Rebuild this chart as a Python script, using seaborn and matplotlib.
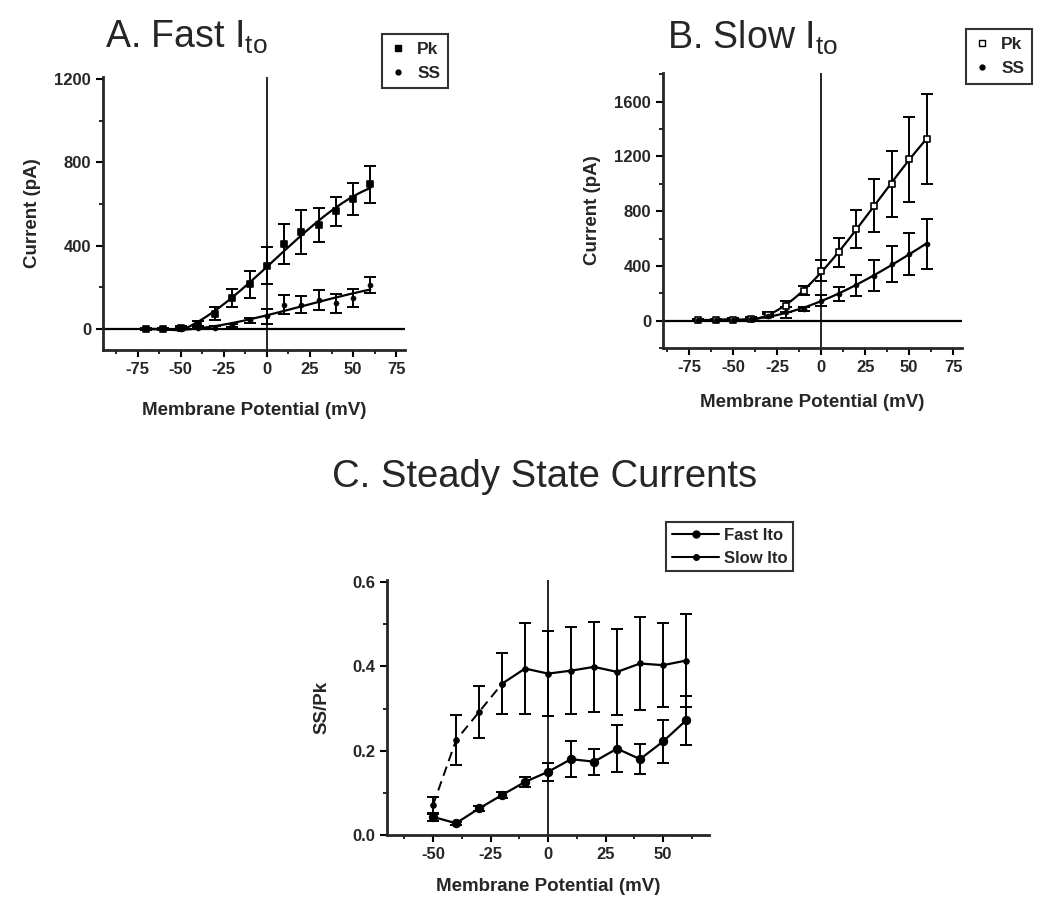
import numpy as np
import pandas as pd
import matplotlib
matplotlib.use("Agg")
import matplotlib.pyplot as plt
import seaborn as sns
from matplotlib.ticker import AutoMinorLocator
from matplotlib.lines import Line2D

sns.set_style("ticks")
plt.rcParams['font.family'] = ['Liberation Sans', 'DejaVu Sans']
plt.rcParams['mathtext.default'] = 'regular'
plt.rcParams['axes.unicode_minus'] = False

# membrane potentials (mV)
volts = [-70, -60, -50, -40, -30, -20, -10, 0, 10, 20, 30, 40, 50, 60]

# A. fast Ito (pA)
fast_pk = [2, 0, 8, 25, 75, 150, 215, 305, 410, 465, 500, 565, 625, 695]
fast_pk_err = [5, 5, 8, 12, 30, 45, 65, 90, 95, 105, 80, 70, 75, 90]
fast_ss = [0, 0, 2, 5, 8, 18, 42, 62, 118, 118, 140, 125, 150, 212]
fast_ss_err = [3, 3, 3, 4, 5, 8, 12, 35, 45, 40, 50, 45, 45, 40]

# B. slow Ito (pA)
slow_pk = [5, 5, 8, 15, 45, 105, 220, 365, 500, 670, 840, 1000, 1180, 1330]
slow_pk_err = [10, 10, 10, 10, 15, 40, 35, 75, 105, 140, 195, 240, 310, 330]
slow_ss = [2, 2, 5, 12, 37, 60, 86, 147, 196, 257, 330, 416, 489, 560]
slow_ss_err = [5, 5, 5, 8, 10, 40, 15, 40, 50, 80, 110, 130, 155, 180]

# C. SS/Pk ratio
ratio_v = [-50, -40, -30, -20, -10, 0, 10, 20, 30, 40, 50, 60]
ratio_fast = [0.043, 0.028, 0.063, 0.095, 0.126, 0.15, 0.18, 0.174, 0.205, 0.18, 0.222, 0.272]
ratio_fast_err = [0.01, 0.004, 0.006, 0.008, 0.012, 0.022, 0.042, 0.031, 0.056, 0.036, 0.05, 0.058]
ratio_slow = [0.071, 0.225, 0.292, 0.359, 0.395, 0.383, 0.39, 0.399, 0.387, 0.407, 0.403, 0.414]
ratio_slow_err = [0.02, 0.06, 0.062, 0.073, 0.107, 0.1, 0.104, 0.107, 0.103, 0.11, 0.1, 0.11]

fig = plt.figure(figsize=(10.48, 9), dpi=100)
axA = fig.add_axes([0.0983, 0.6111, 0.288, 0.3033])
axB = fig.add_axes([0.6326, 0.6133, 0.2853, 0.3056])
axC = fig.add_axes([0.3693, 0.0722, 0.3073, 0.2833])

label_font = dict(fontsize=13.5, fontweight='bold')


def fit_curve(x, y):
    # smooth cubic fit above -50 mV, flat before
    df = pd.DataFrame({"v": x, "i": y})
    upper = df[df.v >= -50]
    coef = np.polyfit(upper.v, upper.i, 3)
    xs = np.linspace(-50, 60, 200)
    ys = np.polyval(coef, xs)
    return pd.DataFrame({"v": np.r_[df[df.v < -50].v, xs], "i": np.r_[df[df.v < -50].i, ys]})


def iv_panel(ax, pk, pk_err, ss, ss_err, pk_marker, ylim, yticks, xlim, xpad):
    for y, err in [(pk, pk_err), (ss, ss_err)]:
        ax.errorbar(volts, y, yerr=err, fmt='none', ecolor='black', elinewidth=1.4,
                    capsize=4.5, capthick=1.4, zorder=3)
        sns.lineplot(data=fit_curve(volts, y), x="v", y="i", ax=ax, color='black', lw=1.6, zorder=2)
    sns.scatterplot(x=volts, y=pk, ax=ax, marker=pk_marker[0], s=pk_marker[1],
                    facecolor=pk_marker[2], edgecolor='black', linewidth=1.2, zorder=4)
    sns.scatterplot(x=volts, y=ss, ax=ax, marker='o', s=14, color='black', edgecolor='black', zorder=4)
    ax.axhline(0, color='black', lw=1.6, zorder=1)
    ax.axvline(0, color='black', lw=1.2, zorder=1)
    ax.set_xlim(*xlim)
    ax.set_ylim(*ylim)
    ax.set_xticks([-75, -50, -25, 0, 25, 50, 75])
    ax.set_yticks(yticks)
    ax.set_xlabel("Membrane Potential (mV)", labelpad=xpad, **label_font)
    ax.set_ylabel("Current (pA)", labelpad=10, **label_font)


iv_panel(axA, fast_pk, fast_pk_err, fast_ss, fast_ss_err, ('s', 20, 'black'),
         (-100, 1210), [0, 400, 800, 1200], (-95, 80), 18)
iv_panel(axB, slow_pk, slow_pk_err, slow_ss, slow_ss_err, ('s', 14, 'white'),
         (-200, 1810), [0, 400, 800, 1200, 1600], (-90, 80), 14)

# panel C
slow_df = pd.DataFrame({"v": ratio_v, "r": ratio_slow})
fast_df = pd.DataFrame({"v": ratio_v, "r": ratio_fast})
axC.errorbar(ratio_v, ratio_fast, yerr=ratio_fast_err, fmt='none', ecolor='black',
             elinewidth=1.4, capsize=4.5, capthick=1.4, zorder=3)
axC.errorbar(ratio_v, ratio_slow, yerr=ratio_slow_err, fmt='none', ecolor='black',
             elinewidth=1.4, capsize=4.5, capthick=1.4, zorder=3)
sns.lineplot(data=fast_df, x="v", y="r", ax=axC, color='black', lw=1.6, marker='o',
             markersize=6, markeredgecolor='black', zorder=4)
sns.lineplot(data=slow_df[slow_df.v <= -20], x="v", y="r", ax=axC, color='black', lw=1.4,
             linestyle=(0, (5, 3)), marker='o', markersize=4, markeredgecolor='black', zorder=4)
sns.lineplot(data=slow_df[slow_df.v >= -20], x="v", y="r", ax=axC, color='black', lw=1.6,
             marker='o', markersize=4, markeredgecolor='black', zorder=4)
axC.axvline(0, color='black', lw=1.2, zorder=1)
axC.set_xlim(-70, 70)
axC.set_ylim(0, 0.605)
axC.set_xticks([-50, -25, 0, 25, 50])
axC.set_yticks([0.0, 0.2, 0.4, 0.6])
axC.set_yticklabels(["0.0", "0.2", "0.4", "0.6"])
axC.set_xlabel("Membrane Potential (mV)", labelpad=12, **label_font)
axC.set_ylabel("SS/Pk", labelpad=16, **label_font)

for ax in (axA, axB, axC):
    sns.despine(ax=ax)
    ax.spines['left'].set_linewidth(2)
    ax.spines['bottom'].set_linewidth(2)
    ax.xaxis.set_minor_locator(AutoMinorLocator(2))
    ax.yaxis.set_minor_locator(AutoMinorLocator(2))
    ax.tick_params(which='major', length=5, width=1.5, direction='out', color='black', labelsize=12)
    ax.tick_params(which='minor', length=3, width=1.2, direction='out', color='black')
    for lab in ax.get_xticklabels() + ax.get_yticklabels():
        lab.set_fontweight('bold')

# legends
legend_kw = dict(loc='upper left', frameon=True, fancybox=False, edgecolor='black',
                 handlelength=1.0, prop=dict(weight='bold', size=12.5), borderpad=0.45,
                 labelspacing=0.5, handletextpad=0.6)
hA = [Line2D([], [], ls='none', marker='s', ms=4.5, mfc='black', mec='black'),
      Line2D([], [], ls='none', marker='o', ms=3.5, mfc='black', mec='black')]
legA = fig.legend(hA, ["Pk", "SS"], bbox_to_anchor=(0.356, 0.972), **legend_kw)
legA.get_frame().set_linewidth(1.5)
hB = [Line2D([], [], ls='none', marker='s', ms=4, mfc='white', mec='black'),
      Line2D([], [], ls='none', marker='o', ms=3.5, mfc='black', mec='black')]
legB = fig.legend(hB, ["Pk", "SS"], bbox_to_anchor=(0.913, 0.977), **legend_kw)
legB.get_frame().set_linewidth(1.5)
hC = [Line2D([], [], color='black', lw=1.5, marker='o', ms=5),
      Line2D([], [], color='black', lw=1.5, marker='o', ms=4)]
legC = axC.legend(hC, ["Fast Ito", "Slow Ito"], loc='upper left', bbox_to_anchor=(0.628, 0.429),
                  bbox_transform=fig.transFigure, frameon=True, fancybox=False, edgecolor='black',
                  handlelength=2.8, prop=dict(weight='bold', size=12), borderpad=0.35,
                  labelspacing=0.45, handletextpad=0.3)
legC.get_frame().set_linewidth(1.5)

# titles
fig.text(0.1, 0.958, "A. Fast I$_{to}$", fontsize=27, va='center', ha='left')
fig.text(0.636, 0.958, "B. Slow I$_{to}$", fontsize=27, va='center', ha='left')
fig.text(0.52, 0.47, "C. Steady State Currents", fontsize=27.5, va='center', ha='center')

fig.savefig("out.png", dpi=100)
